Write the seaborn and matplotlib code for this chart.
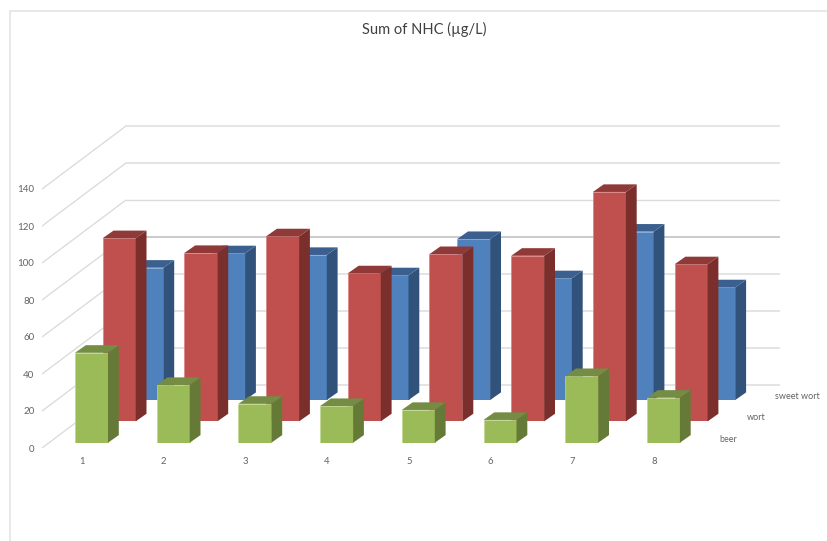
import matplotlib
matplotlib.use("Agg")
import matplotlib.pyplot as plt
from matplotlib.lines import Line2D
from matplotlib.patches import Polygon
from matplotlib.transforms import ScaledTranslation
import seaborn as sns

# Sum of NHC per sample, one list per brewing stage
samples = ["1", "2", "3", "4", "5", "6", "7", "8"]
sweet_wort = [71.5, 79.3, 78.4, 67.4, 87.0, 65.8, 91.0, 60.9]
wort = [99.0, 91.0, 100.0, 80.0, 90.4, 89.5, 124.0, 84.9]
beer = [48.6, 31.2, 21.0, 19.8, 17.7, 12.3, 36.0, 24.3]
value_ticks = [0, 20, 40, 60, 80, 100, 120, 140]

W, H = 827, 541
PX_PER_UNIT = 1.85
SLOT = 81.7
BAR_PX = 33.0
RIM_DX, RIM_DY = 10.8, 7.6          # oblique depth of one bar, px
ROW_DX, ROW_DY = 27.7, 21.35        # shift between stage rows, px
FLOOR_DX, FLOOR_DY = 84.0, 63.0     # oblique depth of the chart floor, px
TEXT = "#636363"

sns.set_theme(style="white")
plt.rcParams["font.family"] = ["Lato", "DejaVu Sans"]

fig = plt.figure(figsize=(W / 100, H / 100), dpi=100, facecolor="white")


def place(left, base, width, height):
    """Axes from a left edge and baseline given in pixels from the top-left."""
    return fig.add_axes([left / W, 1 - base / H, width / W, height / H])


# Outer chart border, open at the right and bottom
for xs, ys in (([9.5 / W, 9.5 / W], [0, 1 - 11 / H]), ([9.5 / W, 1], [1 - 11 / H, 1 - 11 / H])):
    fig.add_artist(Line2D(xs, ys, color="#e4e4e4", lw=1.2))

# Side and back walls with their gridlines
wall_w = 738.0
wall = place(42, 448, wall_w, 333)
wall.set_xlim(0, wall_w)
wall.set_ylim(0, 333 / PX_PER_UNIT)
wall.patch.set_alpha(0)
sns.despine(ax=wall, left=True, bottom=True)
wall.set_xticks([])
wall.set_yticks(value_ticks)
wall.tick_params(axis="y", length=0, pad=5.5, labelsize=7.0, labelcolor=TEXT)
back_colors = ["#e2e2e2", "#e2e2e2", "#e2e2e2", "#e2e2e2", "#bdbdbd", "#dcdcdc", "#e2e2e2", "#e6e6e6"]
back_widths = [1.3, 1.3, 1.3, 1.3, 1.1, 1.0, 1.3, 1.5]
lift = FLOOR_DY / PX_PER_UNIT
for v, c, lw in zip(value_ticks, back_colors, back_widths):
    wall.plot([0, FLOOR_DX], [v, v + lift], color="#dcdcdc", lw=1.0, zorder=1)
    wall.plot([FLOOR_DX, wall_w], [v + lift, v + lift], color=c, lw=lw, zorder=1)

# One transparent axes per stage, shifted along the floor, back row first
rows = [
    ("sweet wort", sweet_wort, "#4F81BD", "#31527B", "#3B6090", "#7fa3cf"),
    ("wort", wort, "#C0504D", "#7B2F2D", "#8F3A38", "#d88280"),
    ("beer", beer, "#9BBB59", "#667A38", "#748C43", "#c0d68f"),
]
for depth, (name, values, face, side, top, rim) in zip((2, 1, 0), rows):
    left = 50.65 + ROW_DX * depth
    base = 442.7 - ROW_DY * depth
    ax = place(left, base, SLOT * 8, 160 * PX_PER_UNIT)
    ax.set_zorder(5 - depth)
    ax.patch.set_alpha(0)
    sns.barplot(x=samples, y=values, color=face, saturation=1, width=BAR_PX / SLOT,
                edgecolor=rim, linewidth=0.5, ax=ax)
    ax.set_xlim(-0.5, 7.5)
    ax.set_ylim(0, 160)
    ax.set_yticks([])
    ax.set_xlabel("")
    ax.set_ylabel("")
    sns.despine(ax=ax, left=True, bottom=True)

    # Oblique side and top faces built from each bar's own rectangle
    dx, dy = RIM_DX / SLOT, RIM_DY / PX_PER_UNIT
    for bar in ax.patches:
        x0, x1, h = bar.get_x(), bar.get_x() + bar.get_width(), bar.get_height()
        ax.add_patch(Polygon([(x1, 0), (x1 + dx, dy), (x1 + dx, h + dy), (x1, h)],
                             facecolor=side, edgecolor="none", clip_on=False, zorder=3))
        ax.add_patch(Polygon([(x0, h), (x0 + dx, h + dy), (x1 + dx, h + dy), (x1, h)],
                             facecolor=top, edgecolor="none", clip_on=False, zorder=3))

    # Stage name sits on the floor just past the last sample
    ax.annotate(name, xy=(1, 0), xycoords="axes fraction", xytext=(15.2 * 0.72, 3.4 * 0.72),
                textcoords="offset points", ha="left", va="center", fontsize=6.5, color=TEXT)

    if depth == 0:
        ax.tick_params(axis="x", length=0, pad=10, labelsize=6.8, labelcolor=TEXT)
        shift = ScaledTranslation(-9.5 / 100, 0, fig.dpi_scale_trans)
        for lab in ax.get_xticklabels():
            lab.set_transform(lab.get_transform() + shift)
    else:
        ax.set_xticks([])

fig.text(424.5 / W, 1 - 29 / H, "Sum of NHC (µg/L)", ha="center", va="center",
         fontsize=10.55, color="#404040")

fig.savefig("out.png", dpi=100)
